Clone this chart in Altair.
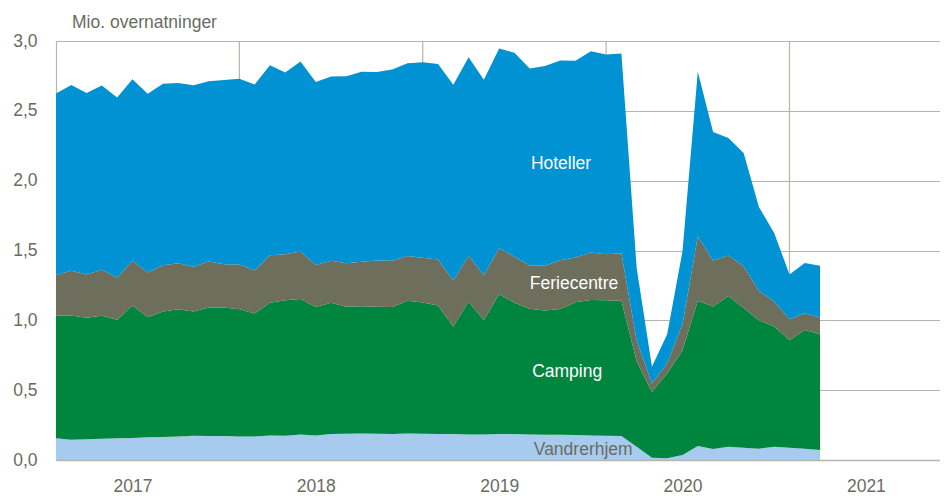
import altair as alt
import pandas as pd

# month index 0 = Jan 2017 ... 50 = Mar 2021
vandrerhjem = [0.155,0.145,0.148,0.152,0.155,0.157,0.162,0.164,0.169,0.174,0.171,0.171,0.169,0.169,0.176,0.174,0.183,0.176,
               0.186,0.188,0.190,0.188,0.186,0.190,0.188,0.186,0.186,0.183,0.183,0.186,0.186,0.183,0.181,0.181,0.179,0.176,0.174,0.171,
               0.095,0.017,0.012,0.036,0.100,0.079,0.095,0.088,0.081,0.095,0.088,0.081,0.071]
camping = [0.88,0.89,0.87,0.88,0.85,0.95,0.86,0.90,0.91,0.89,0.92,0.92,0.91,0.88,0.95,0.97,0.97,0.92,
           0.94,0.91,0.91,0.91,0.91,0.95,0.94,0.92,0.77,0.95,0.82,1.00,0.94,0.90,0.89,0.90,0.95,0.97,0.97,0.97,
           0.61,0.47,0.61,0.75,1.04,1.02,1.08,1.00,0.92,0.86,0.77,0.85,0.83]
feriecentre = [0.29,0.32,0.31,0.33,0.30,0.32,0.32,0.33,0.33,0.32,0.33,0.31,0.32,0.31,0.34,0.33,0.34,0.30,
               0.30,0.31,0.32,0.33,0.33,0.32,0.32,0.33,0.33,0.33,0.32,0.33,0.33,0.31,0.32,0.35,0.32,0.34,0.33,0.34,
               0.15,0.06,0.07,0.19,0.46,0.33,0.29,0.30,0.21,0.18,0.15,0.12,0.12]
hoteller = [1.30,1.33,1.30,1.32,1.29,1.30,1.28,1.30,1.29,1.30,1.29,1.32,1.33,1.33,1.36,1.30,1.36,1.31,
            1.32,1.34,1.36,1.35,1.37,1.38,1.40,1.40,1.40,1.42,1.40,1.43,1.46,1.41,1.43,1.43,1.41,1.44,1.43,1.43,
            0.52,0.12,0.21,0.52,1.18,0.92,0.84,0.81,0.60,0.49,0.32,0.36,0.37]

series_names = ["Vandrerhjem", "Camping", "Feriecentre", "Hoteller"]
series_values = [vandrerhjem, camping, feriecentre, hoteller]
series_colors = ["#a7cbee", "#00853e", "#6e6e5c", "#0092d2"]

year_labels = ["2017", "2018", "2019", "2020", "2021"]
year_label_pos = [5, 17, 29, 41, 53]
year_grid_pos = [12, 24, 36, 48]

label_text = ["Hoteller", "Feriecentre", "Camping", "Vandrerhjem"]
label_x = [33.05, 33.9, 33.45, 34.5]
label_y = [2.12, 1.26, 0.63, 0.07]
label_color = ["white", "white", "white", "#6b6b5f"]

rows = []
for k, (name, vals) in enumerate(zip(series_names, series_values)):
    for i, v in enumerate(vals):
        rows.append({"t": i, "serie": name, "v": v, "rank": k})
df = pd.DataFrame(rows)

FONT = "Liberation Sans"
FS = 17.5
GRID = "#b8b5ac"
TXT = "#6b6b5f"

xscale = alt.Scale(domain=[0, 57.85], nice=False, zero=False)
yscale = alt.Scale(domain=[0, 3], nice=False)

label_expr = " : ".join(
    [f"datum.value == {p} ? '{l}'" for p, l in zip(year_label_pos, year_labels)]
) + " : ''"

areas = alt.Chart(df).mark_area(interpolate="linear", opacity=1).encode(
    x=alt.X("t:Q", scale=xscale,
            axis=alt.Axis(values=year_label_pos, labelExpr=label_expr, title=None,
                          ticks=False, grid=False, domainColor=GRID, domainWidth=1.5,
                          labelFont=FONT, labelFontSize=FS, labelColor=TXT,
                          labelBaseline="alphabetic", labelPadding=31, zindex=1)),
    y=alt.Y("v:Q", stack="zero", scale=yscale,
            axis=alt.Axis(values=[0, 0.5, 1, 1.5, 2, 2.5, 3], title=None, ticks=False,
                          labelExpr="replace(format(datum.value, '.1f'), '.', ',')",
                          labelFont=FONT, labelFontSize=FS, labelColor=TXT, labelPadding=19,
                          gridColor=GRID, gridWidth=1.2, domainColor=GRID, domainWidth=1.2)),
    color=alt.Color("serie:N", scale=alt.Scale(domain=series_names, range=series_colors), legend=None),
    order=alt.Order("rank:Q", sort="ascending"),
)

grid_df = pd.DataFrame({"t": year_grid_pos})
vgrid = alt.Chart(grid_df).mark_rule(color=GRID, strokeWidth=1.2).encode(
    x=alt.X("t:Q", scale=xscale),
    y=alt.value(0),
    y2=alt.value(419),
)

lab_df = pd.DataFrame({"t": label_x, "v": label_y, "txt": label_text, "c": label_color})
labels = alt.Chart(lab_df).mark_text(font=FONT, fontSize=FS, align="center", baseline="middle").encode(
    x=alt.X("t:Q", scale=xscale),
    y=alt.Y("v:Q", scale=yscale),
    text="txt:N",
    color=alt.Color("c:N", scale=None),
)

title = alt.Chart(pd.DataFrame({"txt": ["Mio. overnatninger"]})).mark_text(
    font=FONT, fontSize=FS, align="left", baseline="alphabetic", color=TXT
).encode(x=alt.value(16), y=alt.value(-13), text="txt:N")

chart = alt.layer(vgrid, areas, labels, title).properties(
    width=884, height=419,
    autosize=alt.AutoSizeParams(type="none"),
    padding={"left": 48, "top": 33, "right": 0, "bottom": 35},
).configure_view(stroke=None)

chart.save("out.html", embed_options={"renderer": "svg", "actions": False})
